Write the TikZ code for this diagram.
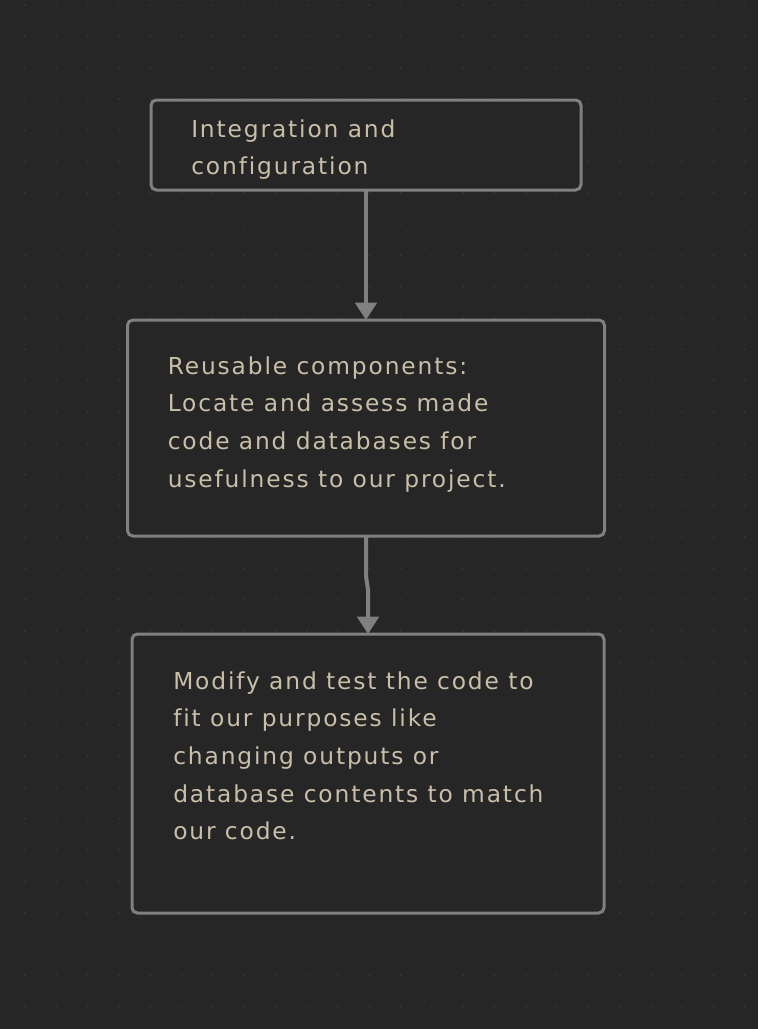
\documentclass[tikz,border=0pt]{standalone}
\usepackage{fontspec}
\setmainfont{DejaVu Sans}[LetterSpace=8,Ligatures=NoCommon]
\usetikzlibrary{arrows.meta,calc}
\definecolor{bgdark}{RGB}{38,38,38}
\definecolor{griddot}{RGB}{54,54,54}
\definecolor{edgegray}{RGB}{128,128,128}
\definecolor{textbeige}{RGB}{201,190,168}
\tikzset{
  stepbox/.style={draw=edgegray, line width=2.25pt, rounded corners=4pt,
    fill=bgdark, inner sep=0pt, outer sep=0pt},
  boxtext/.style={anchor=north west, align=left, inner sep=0pt,
    text=textbeige, font=\fontsize{17.5}{28.3}\selectfont},
  flow/.style={draw=edgegray, line width=3pt,
    -{Triangle[width=16pt,length=13pt]}},
}
\begin{document}
\begin{tikzpicture}[x=0.75pt,y=-0.75pt]
    %% Canvas
    \fill[bgdark] (0,0) rectangle (758,1029);
    \useasboundingbox (0,0) rectangle (758,1029);

    %% Dot grid
    \foreach \gx in {0,...,23}
        \foreach \gy in {0,...,32}
            \fill[griddot] (25+31.3*\gx, 5+31.3*\gy) circle (0.8pt);

    %% Boxes
    \node[stepbox, minimum width=322.5pt, minimum height=67.5pt]
        (integ) at (366,145) {};
    \node[stepbox, minimum width=357.75pt, minimum height=162pt]
        (reuse) at (366,428) {};
    \node[stepbox, minimum width=354pt, minimum height=209.25pt]
        (modify) at (368,773.5) {};

    %% Texts
    \node[boxtext] (integtext) at ([shift={(40,19)}]integ.north west)
        {Integration and\\configuration};
    \node[boxtext] (reusetext) at ([shift={(40,36)}]reuse.north west)
        {Reusable components:\\Locate and assess made\\code and databases for\\usefulness to our project.};
    \node[boxtext] (modifytext) at ([shift={(41,37)}]modify.north west)
        {Modify and test the code to\\fit our purposes like\\changing outputs or\\database contents to match\\our code.};

    %% Arrows
    \draw[flow] (integ.south) -- (reuse.north);
    \draw[flow] (reuse.south) -- ++(0,40)
        -- ($(modify.north)+(0,-44)$) -- (modify.north);
\end{tikzpicture}
\end{document}
